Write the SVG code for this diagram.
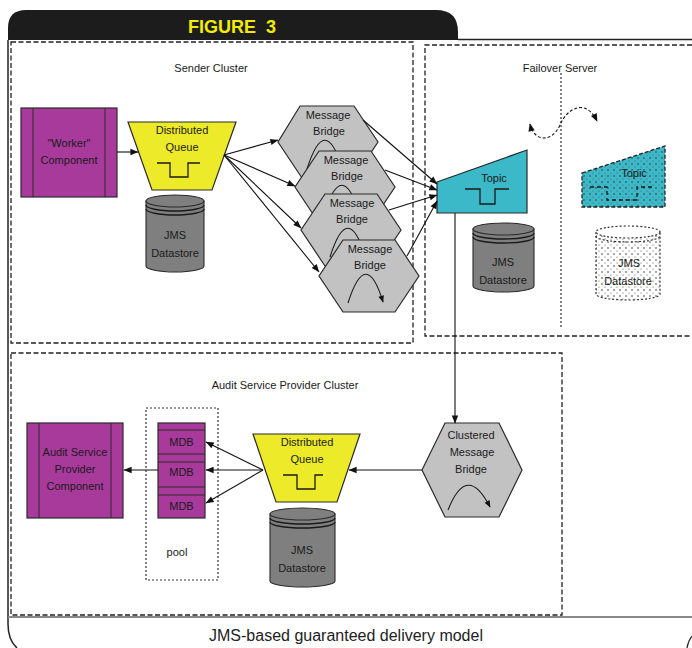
<svg xmlns="http://www.w3.org/2000/svg" width="692" height="648" viewBox="0 0 692 648">
  <style>
    .lbl { font-family: "Liberation Sans", Arial, sans-serif; font-size: 11px; fill: #1a1a1a; text-anchor: middle; }
    .box { fill: none; stroke: #222; stroke-width: 1.3; stroke-dasharray: 5 2.5; }
    .dot { fill: none; stroke: #333; stroke-width: 1.2; stroke-dasharray: 2 2; }
    .comp { fill: #A83A9C; stroke: #2a2a2a; stroke-width: 1.2; }
    .inner { stroke: #2a2a2a; stroke-width: 1; }
    .queue { fill: #EDEA2A; stroke: #2a2a2a; stroke-width: 1.2; }
    .topic { fill: #3CB9C9; stroke: #2a2a2a; stroke-width: 1.2; }
    .bridge { fill: #C2C2C2; stroke: #2a2a2a; stroke-width: 1.2; }
    .store { fill: #7F7F7F; stroke: #2a2a2a; stroke-width: 1.1; }
    .sym { fill: none; stroke: #1a1a1a; stroke-width: 1.3; }
    .arc { fill: none; stroke: #1a1a1a; stroke-width: 1.1; marker-end: url(#ah-small); }
    .conn { fill: none; stroke: #111; stroke-width: 1.1; marker-end: url(#ah); }
  </style>
  <defs>
    <marker id="ah" viewBox="0 0 10 10" refX="9.5" refY="5" markerWidth="9" markerHeight="8" markerUnits="userSpaceOnUse" orient="auto">
      <path d="M0,1 L10,5 L0,9 Z" fill="#111"/>
    </marker>
    <marker id="ah-small" viewBox="0 0 10 10" refX="9" refY="5" markerWidth="8" markerHeight="7" markerUnits="userSpaceOnUse" orient="auto">
      <path d="M0,1 L10,5 L0,9 Z" fill="#111"/>
    </marker>
    <marker id="ah-both" viewBox="0 0 10 10" refX="9" refY="5" markerWidth="9" markerHeight="8" markerUnits="userSpaceOnUse" orient="auto-start-reverse">
      <path d="M0,1 L10,5 L0,9 Z" fill="#111"/>
    </marker>
    <pattern id="dots" width="6" height="6" patternUnits="userSpaceOnUse">
      <circle cx="2" cy="2" r="0.8" fill="#333"/>
      <circle cx="5" cy="5" r="0.6" fill="#555"/>
    </pattern>
  </defs>

  <rect width="692" height="648" fill="#ffffff"/>

  <!-- frame: header tab, borders, caption strip -->
  <g id="frame">
    <path d="M8,40 V28 Q8,10 26,10 H436 Q458,10 458,32 V40 Z" fill="#1c1c1c"/>
    <text x="232" y="33" font-family="'Liberation Sans', Arial, sans-serif" font-size="18" font-weight="bold" fill="#F4EC00" text-anchor="middle" word-spacing="5">FIGURE 3</text>
    <path d="M458,39.5 H692" stroke="#222" stroke-width="1.5" fill="none"/>
    <path d="M8,40 V624 Q8,640 17,648" stroke="#222" stroke-width="1.5" fill="none"/>
    <path d="M692,636 Q688,641 687,648" stroke="#222" stroke-width="1.2" fill="none"/>
    <path d="M8,617 H692" stroke="#8a8a8a" stroke-width="2"/>
    <text x="346" y="641" font-family="'Liberation Sans', Arial, sans-serif" font-size="16" fill="#222" text-anchor="middle">JMS-based guaranteed delivery model</text>
  </g>

  <!-- cluster boundaries -->
  <g id="sender-cluster">
    <rect class="box" x="11" y="42" width="402" height="301"/>
    <text class="lbl" x="211" y="72">Sender Cluster</text>
  </g>
  <g id="failover-server">
    <path class="box" d="M692,45 H425 V336 H692"/>
    <path class="dot" d="M561,73 V328"/>
    <text class="lbl" x="560" y="72">Failover Server</text>
  </g>
  <g id="audit-cluster">
    <rect class="box" x="11" y="353" width="551" height="262"/>
    <text class="lbl" x="285" y="389">Audit Service Provider Cluster</text>
  </g>

  <!-- sender side -->
  <g id="worker">
    <rect class="comp" x="21" y="108" width="96" height="89"/>
    <path class="inner" d="M33,108 V197 M105,108 V197"/>
    <text class="lbl" x="69" y="147">"Worker"</text>
    <text class="lbl" x="69" y="164">Component</text>
  </g>
  <g id="sender-queue">
    <polygon class="queue" points="128,122 236,122 212,190 152,190"/>
    <text class="lbl" x="182" y="134">Distributed</text>
    <text class="lbl" x="182" y="151">Queue</text>
    <path class="sym" d="M157,163 H170 V177 H188 V163 H200"/>
  </g>
  <g id="sender-store">
    <path class="store" d="M146,201 V266 A29,6 0 0 0 204,266 V201 Z"/>
    <ellipse class="store" cx="175" cy="201" rx="29" ry="6"/>
    <path class="sym" d="M146,205 A29,6 0 0 0 204,205 M146,209 A29,6 0 0 0 204,209" stroke-width="1"/>
    <text class="lbl" x="175" y="239">JMS</text>
    <text class="lbl" x="175" y="257">Datastore</text>
  </g>

  <g id="bridge-1">
    <polygon class="bridge" points="300,106 354,106 378,142 354,178 302,178 278,142"/>
    <text class="lbl" x="328" y="119">Message</text>
    <text class="lbl" x="329" y="135">Bridge</text>
    <path class="arc" d="M307,169 Q325,112 342,168"/>
  </g>
  <g id="bridge-2">
    <polygon class="bridge" points="319,151 371,151 395,187 371,223 319,223 295,187"/>
    <text class="lbl" x="346" y="164">Message</text>
    <text class="lbl" x="347" y="180">Bridge</text>
    <path class="arc" d="M324,214 Q342,157 359,213"/>
  </g>
  <g id="bridge-3">
    <polygon class="bridge" points="325,194 377,194 401,230 377,266 325,266 301,230"/>
    <text class="lbl" x="352" y="207">Message</text>
    <text class="lbl" x="352" y="223">Bridge</text>
    <path class="arc" d="M330,257 Q348,200 365,256"/>
  </g>
  <g id="bridge-4">
    <polygon class="bridge" points="343,240 395,240 419,276 395,312 343,312 319,276"/>
    <text class="lbl" x="370" y="253">Message</text>
    <text class="lbl" x="370" y="269">Bridge</text>
    <path class="arc" d="M348,303 Q366,246 383,302"/>
  </g>

  <!-- failover server -->
  <g id="topic">
    <polygon class="topic" points="437,182 527,150 527,213 437,213"/>
    <text class="lbl" x="494" y="182">Topic</text>
    <path class="sym" d="M465,189 H480 V204 H495 V189 H509"/>
  </g>
  <g id="topic-store">
    <path class="store" d="M473,229 V286 A30.5,6 0 0 0 534,286 V229 Z"/>
    <ellipse class="store" cx="503.5" cy="229" rx="30.5" ry="6"/>
    <path class="sym" d="M473,233 A30.5,6 0 0 0 534,233 M473,237 A30.5,6 0 0 0 534,237" stroke-width="1"/>
    <text class="lbl" x="503" y="266">JMS</text>
    <text class="lbl" x="503" y="284">Datastore</text>
  </g>
  <!-- standby copies on the passive side: dotted fill, dashed outlines -->
  <g id="standby-topic">
    <polygon points="582,173 665,146 665,207 582,207" style="fill:#3CB9C9"/>
    <polygon class="box" points="582,173 665,146 665,207 582,207" style="fill:url(#dots);stroke-dasharray:4 2"/>
    <text class="lbl" x="634" y="177">Topic</text>
    <path class="sym" d="M590,187 H607 V200 H637 V187 H655" stroke-dasharray="4 3"/>
  </g>
  <g id="standby-store">
    <path class="dot" d="M596,232 V294 A32,6 0 0 0 660,294 V232 Z" style="fill:url(#dots)"/>
    <ellipse class="dot" cx="628" cy="232" rx="32" ry="6" style="fill:#ffffff"/>
    <path class="dot" d="M596,236 A32,6 0 0 0 660,236"/>
    <text class="lbl" x="629" y="267">JMS</text>
    <text class="lbl" x="628" y="285">Datastore</text>
  </g>

  <!-- audit service provider cluster -->
  <g id="audit-component">
    <rect class="comp" x="27" y="423" width="96" height="95"/>
    <path class="inner" d="M39,423 V518 M111,423 V518"/>
    <text class="lbl" x="75" y="456">Audit Service</text>
    <text class="lbl" x="75" y="473">Provider</text>
    <text class="lbl" x="75" y="490">Component</text>
  </g>
  <g id="pool">
    <rect class="dot" x="146" y="408" width="72" height="172"/>
    <rect class="comp" x="158" y="423" width="47" height="95"/>
    <path class="inner" d="M158,430 H205 M158,454 H205 M158,462 H205 M158,487 H205 M158,495 H205"/>
    <text class="lbl" x="181.5" y="446">MDB</text>
    <text class="lbl" x="181.5" y="476">MDB</text>
    <text class="lbl" x="181.5" y="510">MDB</text>
    <text class="lbl" x="177" y="556">pool</text>
  </g>
  <g id="audit-queue">
    <polygon class="queue" points="253,434 360,434 337,502 276,502"/>
    <text class="lbl" x="307" y="446">Distributed</text>
    <text class="lbl" x="307" y="463">Queue</text>
    <path class="sym" d="M283,475 H297 V489 H315 V475 H323"/>
  </g>
  <g id="audit-store">
    <path class="store" d="M270,514 V581 A32.5,6 0 0 0 335,581 V514 Z"/>
    <ellipse class="store" cx="302.5" cy="514" rx="32.5" ry="6"/>
    <path class="sym" d="M270,518 A32.5,6 0 0 0 335,518 M270,522 A32.5,6 0 0 0 335,522" stroke-width="1"/>
    <text class="lbl" x="302" y="554">JMS</text>
    <text class="lbl" x="302" y="572">Datastore</text>
  </g>
  <g id="clustered-bridge">
    <polygon class="bridge" points="445,423 499,423 522,470 499,517 445,517 422,470"/>
    <text class="lbl" x="471" y="439">Clustered</text>
    <text class="lbl" x="472" y="456">Message</text>
    <text class="lbl" x="471" y="473">Bridge</text>
    <path class="arc" d="M448,510 Q467,462 490,507"/>
  </g>

  <!-- connectors -->
  <g id="connectors">
    <path class="conn" d="M117,152 H138"/>
    <path class="conn" d="M224,155 L278,140"/>
    <path class="conn" d="M224,155 L295,186"/>
    <path class="conn" d="M224,155 L301,228"/>
    <path class="conn" d="M224,155 L319,272"/>
    <path class="conn" d="M363,120 L437,184"/>
    <path class="conn" d="M385,170 L437,190"/>
    <path class="conn" d="M389,210 L437,195"/>
    <path class="conn" d="M407,256 L437,201"/>
    <path class="conn" d="M455,213 V423"/>
    <path class="conn" d="M422,470 H349"/>
    <path class="conn" d="M263,470 L206,442"/>
    <path class="conn" d="M263,470 H206"/>
    <path class="conn" d="M263,470 L206,503"/>
    <path class="conn" d="M158,470 H124"/>
    <path d="M530,124 C534,142 552,143 560,125 C567,108 586,98 597,121" fill="none" stroke="#111" stroke-width="1.1" stroke-dasharray="3 2" marker-start="url(#ah-both)" marker-end="url(#ah-both)"/>
  </g>
</svg>
